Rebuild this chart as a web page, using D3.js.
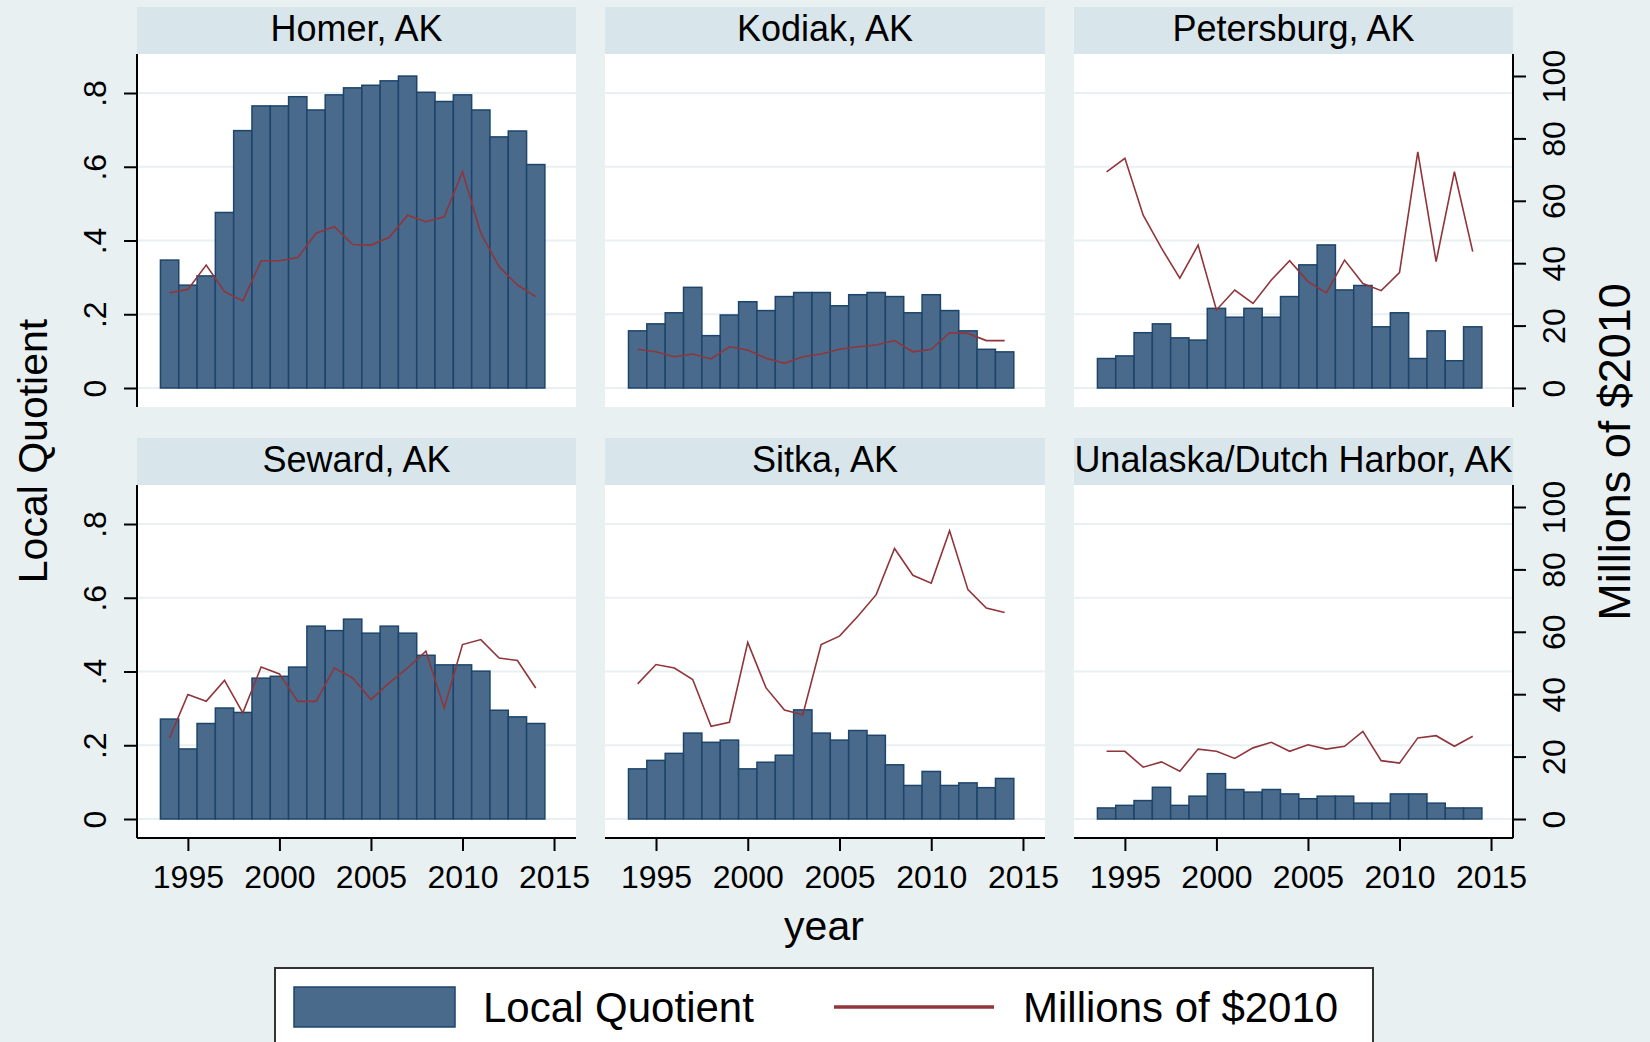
<!DOCTYPE html>
<html lang="en">
<head>
    <meta charset="UTF-8">
    <title>Local Quotient by port | D3</title>
    <style>
        html, body { margin: 0; padding: 0; background: #e8f0f2; }
        svg { display: block; }
        text { font-family: "Liberation Sans", Arial, sans-serif; fill: #000; }
    </style>
</head>
<body>
    <div id="container"></div>

    <script type="text/javascript" src="https://d3js.org/d3.v7.min.js"></script>
    <script type="text/javascript">
        // values, one entry per year 1994..2014
        var years = d3.range(1994, 2015);
        var cities = ["Homer, AK", "Kodiak, AK", "Petersburg, AK",
                      "Seward, AK", "Sitka, AK", "Unalaska/Dutch Harbor, AK"];

        var homerLQ = [.347, .279, .304, .476, .698, .765, .765, .790, .754, .795, .814,
                       .821, .833, .846, .802, .777, .795, .754, .681, .697, .606];
        var homerMil = [30.5, 31.6, 39.4, 30.9, 27.9, 40.8, 40.8, 41.8, 49.6, 51.7, 46.0,
                        45.8, 48.3, 55.4, 53.3, 54.9, 69.3, 49.6, 38.9, 33.0, 29.3];

        var kodiakLQ = [.155, .174, .204, .273, .142, .198, .234, .210, .248, .259, .259,
                        .223, .253, .259, .248, .204, .253, .210, .155, .105, .098];
        var kodiakMil = [12.4, 11.6, 10.0, 10.9, 9.3, 13.2, 12.2, 9.5, 7.9, 10.0, 10.9,
                         12.4, 13.2, 13.8, 15.2, 11.6, 12.4, 17.7, 17.5, 15.2, 15.2];

        var petersburgLQ = [.080, .087, .150, .174, .136, .130, .216, .192, .216, .192, .248,
                            .334, .388, .266, .278, .166, .204, .080, .155, .074, .166];
        var petersburgMil = [69.3, 73.6, 55.4, 44.8, 35.2, 45.8, 25.0, 31.4, 27.1, 34.6, 40.8,
                             34.1, 30.5, 41.0, 33.5, 31.2, 37.0, 75.7, 40.5, 69.3, 43.7];

        var sewardLQ = [.271, .190, .259, .301, .289, .382, .387, .412, .523, .511, .542,
                        .504, .523, .504, .444, .418, .418, .401, .295, .277, .259];
        var sewardMil = [26.0, 39.9, 37.7, 44.4, 34.0, 48.7, 46.5, 37.7, 37.7, 48.4, 45.2,
                         38.3, 43.6, 48.4, 53.8, 35.6, 55.9, 57.5, 51.6, 50.8, 42.0];

        var sitkaLQ = [.136, .159, .178, .233, .208, .214, .136, .154, .173, .296, .233,
                       .214, .240, .227, .147, .091, .129, .091, .098, .085, .110];
        var sitkaMil = [43.3, 49.5, 48.4, 44.7, 29.7, 31.0, 56.6, 42.0, 34.9, 33.4, 55.9,
                        58.6, 65.0, 71.9, 86.7, 78.1, 75.6, 92.4, 73.5, 67.6, 66.2];

        var unalaskaLQ = [.030, .037, .050, .086, .037, .062, .123, .080, .073, .080, .068,
                          .055, .062, .062, .043, .043, .068, .068, .043, .030, .030];
        var unalaskaMil = [21.7, 21.7, 16.6, 18.3, 15.3, 22.4, 21.7, 19.4, 22.8, 24.6, 21.7,
                           23.8, 22.4, 23.3, 28.1, 18.7, 17.9, 26.0, 26.7, 23.3, 26.5];

        var lqTicks = [0, .2, .4, .6, .8];
        var milTicks = [0, 20, 40, 60, 80, 100];
        var yearTicks = [1995, 2000, 2005, 2010, 2015];

        var lqSeries = [homerLQ, kodiakLQ, petersburgLQ, sewardLQ, sitkaLQ, unalaskaLQ];
        var milSeries = [homerMil, kodiakMil, petersburgMil, sewardMil, sitkaMil, unalaskaMil];

        var colors = {
            bg: "#e8f0f2",
            strip: "#d8e5ea",
            grid: "#e8f0f2",
            barFill: "#496a8b",
            barLine: "#1d456b",
            line: "#90353b"
        };

        var svg = d3.select("#container")
            .append("svg")
            .attr("width", 1650)
            .attr("height", 1042);

        svg.append("rect")
            .attr("width", 1650).attr("height", 1042)
            .attr("fill", colors.bg);

        // panel layout: 3 columns, 2 rows
        var colX = [[137, 576], [605, 1045], [1074, 1513]];
        var rowTop = [54, 485];
        var plotH = 353;
        var stripH = 47;

        var yearDomain = [1992.22, 2016.2];
        var lqDomain = [-0.0515, 0.9058];
        var milDomain = [-6.09, 107.05];

        cities.forEach(function(city, i) {
            var col = i % 3, row = Math.floor(i / 3);
            var x0 = colX[col][0], x1 = colX[col][1];
            var top = rowTop[row], bottom = top + plotH;

            var x = d3.scaleLinear().domain(yearDomain).range([x0, x1]);
            var yLQ = d3.scaleLinear().domain(lqDomain).range([bottom, top]);
            var yMil = d3.scaleLinear().domain(milDomain).range([bottom, top]);

            var g = svg.append("g").attr("class", "panel");

            // strip with city name
            g.append("rect")
                .attr("x", x0).attr("y", top - stripH)
                .attr("width", x1 - x0).attr("height", stripH)
                .attr("fill", colors.strip);
            g.append("text")
                .attr("x", (x0 + x1) / 2).attr("y", top - 13)
                .attr("text-anchor", "middle")
                .attr("font-size", 36)
                .text(city);

            // plot area
            g.append("rect")
                .attr("x", x0).attr("y", top)
                .attr("width", x1 - x0).attr("height", plotH)
                .attr("fill", "#fff");

            g.selectAll("line.grid")
                .data(lqTicks)
                .enter().append("line")
                .attr("class", "grid")
                .attr("x1", x0).attr("x2", x1)
                .attr("y1", function(d) { return yLQ(d); })
                .attr("y2", function(d) { return yLQ(d); })
                .attr("stroke", colors.grid)
                .attr("stroke-width", 2);

            var rows = years.map(function(yr, k) {
                return { year: yr, lq: lqSeries[i][k], mil: milSeries[i][k] };
            });

            g.selectAll("rect.bar")
                .data(rows)
                .enter().append("rect")
                .attr("class", "bar")
                .attr("x", function(d) { return x(d.year - 0.5); })
                .attr("width", function(d) { return x(d.year + 0.5) - x(d.year - 0.5); })
                .attr("y", function(d) { return yLQ(d.lq); })
                .attr("height", function(d) { return yLQ(0) - yLQ(d.lq); })
                .attr("fill", colors.barFill)
                .attr("stroke", colors.barLine)
                .attr("stroke-width", 1.5);

            var line = d3.line()
                .x(function(d) { return x(d.year); })
                .y(function(d) { return yMil(d.mil); });

            g.append("path")
                .datum(rows)
                .attr("d", line)
                .attr("fill", "none")
                .attr("stroke", colors.line)
                .attr("stroke-width", 1.6);

            // left axis, first column only
            if (col === 0) {
                var ax = g.append("g")
                    .attr("transform", "translate(" + x0 + ",0)")
                    .call(d3.axisLeft(yLQ).tickValues(lqTicks).tickSize(13)
                        .tickFormat(function(d) { return d === 0 ? "0" : d3.format(".1f")(d).replace(/^0/, ""); }));
                ax.select(".domain").attr("d", "M0," + top + "V" + bottom);
                ax.selectAll("line").attr("stroke-width", 2);
                ax.select(".domain").attr("stroke-width", 2);
                ax.selectAll("text")
                    .attr("font-size", 32)
                    .attr("x", null).attr("dy", null)
                    .attr("text-anchor", "middle")
                    .attr("transform", "translate(-42,0) rotate(-90)")
                    .attr("y", 11);
            }

            // right axis, last column only
            if (col === 2) {
                var ar = g.append("g")
                    .attr("transform", "translate(" + x1 + ",0)")
                    .call(d3.axisRight(yMil).tickValues(milTicks).tickSize(13));
                ar.select(".domain").attr("d", "M0," + top + "V" + bottom);
                ar.selectAll("line").attr("stroke-width", 2);
                ar.select(".domain").attr("stroke-width", 2);
                ar.selectAll("text")
                    .attr("font-size", 32)
                    .attr("x", null).attr("dy", null)
                    .attr("text-anchor", "middle")
                    .attr("transform", "translate(41,0) rotate(-90)")
                    .attr("y", 11);
            }

            // bottom axis, second row only
            if (row === 1) {
                var ab = g.append("g")
                    .attr("transform", "translate(0," + bottom + ")")
                    .call(d3.axisBottom(x).tickValues(yearTicks).tickSize(13).tickFormat(d3.format("d")));
                ab.select(".domain").attr("d", "M" + x0 + ",0H" + x1);
                ab.selectAll("line").attr("stroke-width", 2);
                ab.select(".domain").attr("stroke-width", 2);
                ab.selectAll("text")
                    .attr("font-size", 32)
                    .attr("dy", null)
                    .attr("y", 50);
            }
        });

        svg.selectAll(".domain, .tick line").attr("stroke", "#000");

        // axis titles
        svg.append("text")
            .attr("transform", "translate(47,451) rotate(-90)")
            .attr("text-anchor", "middle")
            .attr("font-size", 41)
            .text("Local Quotient");

        svg.append("text")
            .attr("transform", "translate(1630,452) rotate(-90)")
            .attr("text-anchor", "middle")
            .attr("font-size", 45)
            .text("Millions of $2010");

        svg.append("text")
            .attr("x", 824).attr("y", 940)
            .attr("text-anchor", "middle")
            .attr("font-size", 41)
            .text("year");

        // legend
        var legend = svg.append("g");
        legend.append("rect")
            .attr("x", 275).attr("y", 968)
            .attr("width", 1098).attr("height", 90)
            .attr("fill", "#fff")
            .attr("stroke", "#333")
            .attr("stroke-width", 2);
        legend.append("rect")
            .attr("x", 294).attr("y", 987)
            .attr("width", 161).attr("height", 40)
            .attr("fill", colors.barFill)
            .attr("stroke", colors.barLine)
            .attr("stroke-width", 1.5);
        legend.append("text")
            .attr("x", 483).attr("y", 1022)
            .attr("font-size", 42)
            .text("Local Quotient");
        legend.append("line")
            .attr("x1", 834).attr("x2", 994)
            .attr("y1", 1007).attr("y2", 1007)
            .attr("stroke", colors.line)
            .attr("stroke-width", 3.5);
        legend.append("text")
            .attr("x", 1023).attr("y", 1022)
            .attr("font-size", 42)
            .text("Millions of $2010");
    </script>
</body>
</html>
